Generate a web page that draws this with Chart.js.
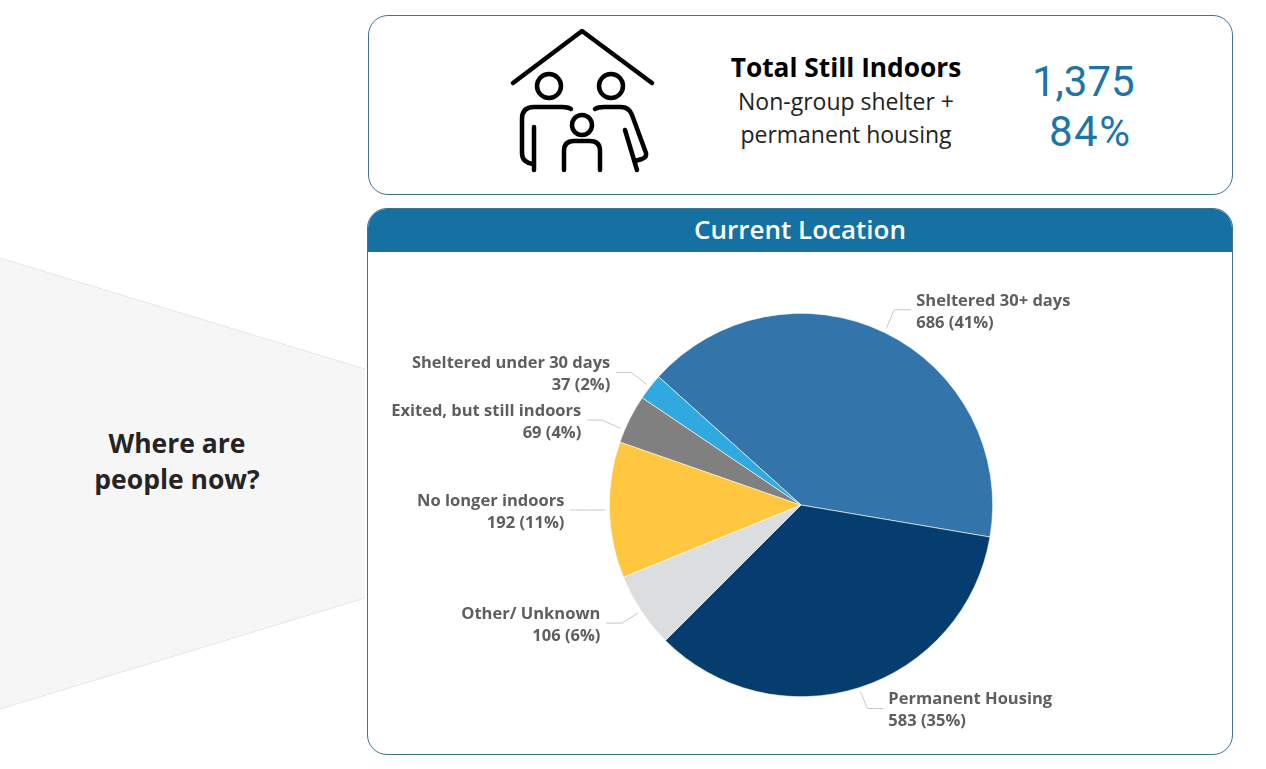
<!DOCTYPE html>
<html>
<head>
<meta charset="utf-8">
<title>Current Location</title>
<script src="https://cdn.jsdelivr.net/npm/chart.js@4"></script>
<style>
    html, body { margin: 0; padding: 0; background: #fff; }
    #page { position: relative; width: 1266px; height: 769px; overflow: hidden; font-family: "Open Sans", sans-serif; }
    #page > * { position: absolute; }
    .panel { box-sizing: border-box; border: 1.5px solid #3f7390; background: #fff; }
    #topPanel { left: 368px; top: 15px; width: 865px; height: 180px; border-radius: 20px; }
    #bottomPanel { left: 367px; top: 208px; width: 866px; height: 547px; border-radius: 20px; overflow: hidden; }
    #header { position: absolute; left: 0; top: 0; right: 0; height: 43px; background: #1571a2; color: #fff; font-size: 26px; font-weight: 600; line-height: 40px; text-align: center; }
    .center { text-align: center; white-space: nowrap; transform: translate(-50%, -50%); }
    #question { left: 177px; top: 461px; font-size: 26.5px; font-weight: 700; line-height: 36px; color: #252423; }
    #totalTitle { left: 846px; top: 67px; font-size: 26.3px; font-weight: 700; color: #000; }
    #totalSub { left: 846px; top: 118px; font-size: 23px; line-height: 33px; color: #222; }
    .big { font-family: Roboto, sans-serif; font-size: 42px; color: #1b75a6; white-space: nowrap; }
    #bigCount { left: 1032px; top: 57px; }
    #bigShare { left: 1049px; top: 107px; letter-spacing: 1.5px; }
    #chartBox { left: 369px; top: 252px; width: 864px; height: 506px; }
</style>
</head>
<body>
<div id="page">
    <svg width="1266" height="769" style="left:0;top:0">
        <polygon points="0,258 365,369 365,598 0,709" fill="#f6f6f6"/>
        <polyline points="0,258 365,369" fill="none" stroke="#e6e6e6"/>
        <polyline points="0,709 365,598" fill="none" stroke="#e6e6e6"/>
    </svg>
    <div id="question" class="center">Where are<br>people now?</div>
    <div id="topPanel" class="panel"></div>
    <div id="bottomPanel" class="panel"><div id="header">Current Location</div></div>

    <svg width="200" height="180" viewBox="480 10 200 180" style="left:480px;top:10px" fill="none" stroke="#000" stroke-width="4.5" stroke-linecap="round" stroke-linejoin="round">
        <path d="M513 83 L582 31 L652 83"/>
        <circle cx="549" cy="86" r="12"/>
        <circle cx="611" cy="86" r="12"/>
        <circle cx="582" cy="125" r="10"/>
        <path d="M571 109 Q568 107 562 107 L534 107 Q522 107 522 119 L522 153 Q522 163 534 164"/>
        <path d="M534 127 L534 170"/>
        <path d="M564 170 L564 151 Q564 141 574 141 L590 141 Q600 141 600 151 L600 170"/>
        <path d="M595 109 Q598 107 604 107 L621 107 Q629 107 632 115 L646 153 Q647 157 642 159 L635 161"/>
        <path d="M625 130 L637 170"/>
    </svg>

    <div id="totalTitle" class="center">Total Still Indoors</div>
    <div id="totalSub" class="center">Non-group shelter +<br>permanent housing</div>
    <div id="bigCount" class="big">1,375</div>
    <div id="bigShare" class="big">84%</div>

    <div id="chartBox"><canvas id="locationChart"></canvas></div>
</div>

<script>
// Datos del gráfico
const categories = ['Sheltered 30+ days', 'Permanent Housing', 'Other/ Unknown', 'No longer indoors', 'Exited, but still indoors', 'Sheltered under 30 days'];
const counts = [686, 583, 106, 192, 69, 37];
const shareLabels = ['41%', '35%', '6%', '11%', '4%', '2%'];
const sliceColors = ['#3375aa', '#053d6e', '#dcdddf', '#ffc640', '#808080', '#2fa9df'];

// Guías de las etiquetas: desplazamiento del codo y largo del tramo recto
const leaders = [
    { kneeX: 8, kneeY: -19, run: 17 },
    { kneeX: 7, kneeY: 17, run: 16 },
    { kneeX: -15.5, kneeY: 10, run: -16 },
    { kneeX: -17, kneeY: 0, run: -18 },
    { kneeX: -18.6, kneeY: -8.4, run: -15, shift: -3.6 },
    { kneeX: -15.5, kneeY: -12, run: -15 }
];

// Dibuja las etiquetas con su línea guía a partir de cada sector
const sliceLabels = {
    id: 'sliceLabels',
    afterDatasetsDraw(chart) {
        const ctx = chart.ctx;
        chart.getDatasetMeta(0).data.forEach((arc, i) => {
            const { x, y, startAngle, endAngle, outerRadius } = arc.getProps(['x', 'y', 'startAngle', 'endAngle', 'outerRadius'], true);
            const leader = leaders[i];
            const angle = (startAngle + endAngle) / 2 + (leader.shift || 0) * Math.PI / 180;
            const startX = x + Math.cos(angle) * (outerRadius + 4);
            const startY = y + Math.sin(angle) * (outerRadius + 4);
            const kneeX = startX + leader.kneeX;
            const kneeY = startY + leader.kneeY;
            const endX = kneeX + leader.run;

            ctx.save();
            ctx.strokeStyle = '#c8c8c8';
            ctx.lineWidth = 1;
            ctx.beginPath();
            ctx.moveTo(startX, startY);
            ctx.lineTo(kneeX, kneeY);
            ctx.lineTo(endX, kneeY);
            ctx.stroke();

            const toRight = leader.run > 0;
            ctx.fillStyle = '#605e5c';
            ctx.font = '700 16.5px "Open Sans"';
            ctx.textAlign = toRight ? 'left' : 'right';
            ctx.textBaseline = 'middle';
            const textX = endX + (toRight ? 5 : -6);
            ctx.fillText(categories[i], textX, kneeY - 9);
            ctx.fillText(counts[i] + ' (' + shareLabels[i] + ')', textX, kneeY + 13);
            ctx.restore();
        });
    }
};

const ctx = document.getElementById('locationChart').getContext('2d');
new Chart(ctx, {
    type: 'pie',
    data: {
        labels: categories,
        datasets: [{
            data: counts,
            backgroundColor: sliceColors,
            borderColor: '#ffffff',
            borderWidth: 0.6
        }]
    },
    options: {
        responsive: true,
        maintainAspectRatio: false,
        animation: false,
        rotation: -48,
        layout: { padding: { top: 61, bottom: 61 } },
        plugins: {
            legend: { display: false },
            tooltip: { enabled: false }
        }
    },
    plugins: [sliceLabels]
});
</script>
</body>
</html>
